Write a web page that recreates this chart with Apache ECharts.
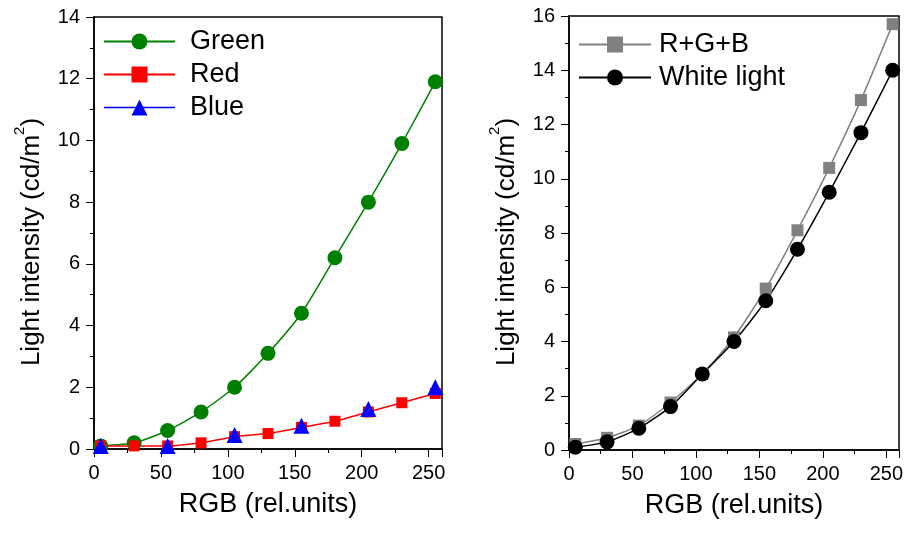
<!DOCTYPE html>
<html>
<head>
<meta charset="utf-8">
<script src="https://cdn.jsdelivr.net/npm/echarts@6/dist/echarts.min.js"></script>
<style>
  html, body { margin: 0; padding: 0; background: #fff; }
  #chart { width: 906px; height: 533px; }
</style>
</head>
<body>
<div id="chart"></div>
<script>
// x positions (RGB rel. units)
const rgbLevels = [5, 30, 55, 80, 105, 130, 155, 180, 205, 230, 255]
const blueLevels = [5, 55, 105, 155, 205, 255]

// left panel
const greenValues = [0.1, 0.2, 0.6, 1.2, 2.0, 3.1, 4.4, 6.2, 8.0, 9.9, 11.9]
const redValues = [0.1, 0.1, 0.1, 0.2, 0.4, 0.5, 0.7, 0.9, 1.2, 1.5, 1.8]
const blueValues = [0.1, 0.1, 0.45, 0.75, 1.3, 2.0]

// right panel
const sumValues = [0.22, 0.45, 0.9, 1.75, 2.8, 4.15, 5.95, 8.1, 10.4, 12.9, 15.7]
const whiteValues = [0.1, 0.3, 0.8, 1.6, 2.8, 4.0, 5.5, 7.4, 9.5, 11.7, 14.0]

const xTitle = 'RGB (rel.units)'
const yTitle = 'Light intensity (cd/m{sup|2})'

const font = "'Liberation Sans', Arial, sans-serif"

function pairs (xs, ys) {
  return xs.map((x, i) => [x, ys[i]])
}

function xAxis (gridIndex) {
  return {
    type: 'value',
    gridIndex: gridIndex,
    min: 0,
    max: 260,
    interval: 50,
    name: xTitle,
    nameLocation: 'middle',
    nameGap: 42,
    nameTextStyle: { fontFamily: font, fontSize: 27, color: '#000' },
    axisLine: { lineStyle: { color: '#000', width: 1.5 } },
    axisTick: { inside: false, length: 8, lineStyle: { color: '#000' } },
    minorTick: { show: true, splitNumber: 2, length: 4, lineStyle: { color: '#000' } },
    axisLabel: {
      fontFamily: font, fontSize: 20, color: '#000', margin: 14,
      formatter: v => (v % 50 === 0 ? String(v) : '')
    },
    splitLine: { show: false }
  }
}

function yAxis (gridIndex, max) {
  return {
    type: 'value',
    gridIndex: gridIndex,
    min: 0,
    max: max,
    interval: 2,
    name: yTitle,
    nameLocation: 'middle',
    nameGap: 42,
    nameTextStyle: {
      fontFamily: font, fontSize: 26, color: '#000', lineHeight: 40, padding: [0, 18, 0, 0],
      rich: {
        sup: { fontFamily: font, fontSize: 15, color: '#000', verticalAlign: 'top', lineHeight: 15 }
      }
    },
    axisLine: { show: true, lineStyle: { color: '#000', width: 1.5 } },
    axisTick: { show: true, inside: false, length: 8, lineStyle: { color: '#000' } },
    minorTick: { show: true, splitNumber: 2, length: 4, lineStyle: { color: '#000' } },
    axisLabel: { fontFamily: font, fontSize: 20, color: '#000', margin: 14 },
    splitLine: { show: false }
  }
}

const chart = echarts.init(document.getElementById('chart'))
chart.setOption({
  backgroundColor: '#fff',
  animation: false,
  grid: [
    { left: 94, top: 17, width: 348, height: 432, show: true, borderColor: '#000', borderWidth: 1.5, backgroundColor: 'transparent' },
    { left: 569, top: 16, width: 333, height: 434, show: true, borderColor: '#000', borderWidth: 1.5, backgroundColor: 'transparent' }
  ],
  legend: [
    {
      data: ['Green', 'Red', { name: 'Blue', lineStyle: { opacity: 1, color: '#0000ff', width: 1.5 } }],
      orient: 'vertical',
      left: 98,
      top: 23,
      itemWidth: 71,
      itemHeight: 20,
      itemGap: 6,
      textStyle: { fontFamily: font, fontSize: 27, color: '#000', padding: [0, 0, 0, 10] }
    },
    {
      data: ['R+G+B', 'White light'],
      orient: 'vertical',
      left: 573,
      top: 26,
      itemWidth: 72,
      itemHeight: 20,
      itemGap: 6,
      textStyle: { fontFamily: font, fontSize: 27, color: '#000', padding: [0, 0, 0, 3] }
    }
  ],
  xAxis: [xAxis(0), xAxis(1)],
  yAxis: [yAxis(0, 14), yAxis(1, 16)],
  series: [
    {
      name: 'Green',
      type: 'line',
      xAxisIndex: 0,
      yAxisIndex: 0,
      data: pairs(rgbLevels, greenValues),
      smooth: 0.2,
      symbol: 'circle',
      symbolSize: 15,
      itemStyle: { color: '#008000' },
      lineStyle: { color: '#008000', width: 1.5 }
    },
    {
      name: 'Red',
      type: 'line',
      xAxisIndex: 0,
      yAxisIndex: 0,
      data: pairs(rgbLevels, redValues),
      smooth: 0.2,
      symbol: 'rect',
      symbolSize: 11,
      itemStyle: { color: '#ff0000' },
      lineStyle: { color: '#ff0000', width: 1.5 }
    },
    {
      // the blue line is hidden behind the red one in the original
      name: 'Blue',
      type: 'line',
      xAxisIndex: 0,
      yAxisIndex: 0,
      data: pairs(blueLevels, blueValues),
      symbol: 'triangle',
      symbolSize: 16,
      itemStyle: { color: '#0000ff' },
      lineStyle: { color: '#0000ff', width: 1.5, opacity: 0 }
    },
    {
      name: 'R+G+B',
      type: 'line',
      xAxisIndex: 1,
      yAxisIndex: 1,
      data: pairs(rgbLevels, sumValues),
      smooth: 0.2,
      symbol: 'rect',
      symbolSize: 12,
      itemStyle: { color: '#808080' },
      lineStyle: { color: '#808080', width: 1.5 }
    },
    {
      name: 'White light',
      type: 'line',
      xAxisIndex: 1,
      yAxisIndex: 1,
      data: pairs(rgbLevels, whiteValues),
      smooth: 0.2,
      symbol: 'circle',
      symbolSize: 15,
      itemStyle: { color: '#000' },
      lineStyle: { color: '#000', width: 1.5 }
    }
  ]
})
</script>
</body>
</html>
